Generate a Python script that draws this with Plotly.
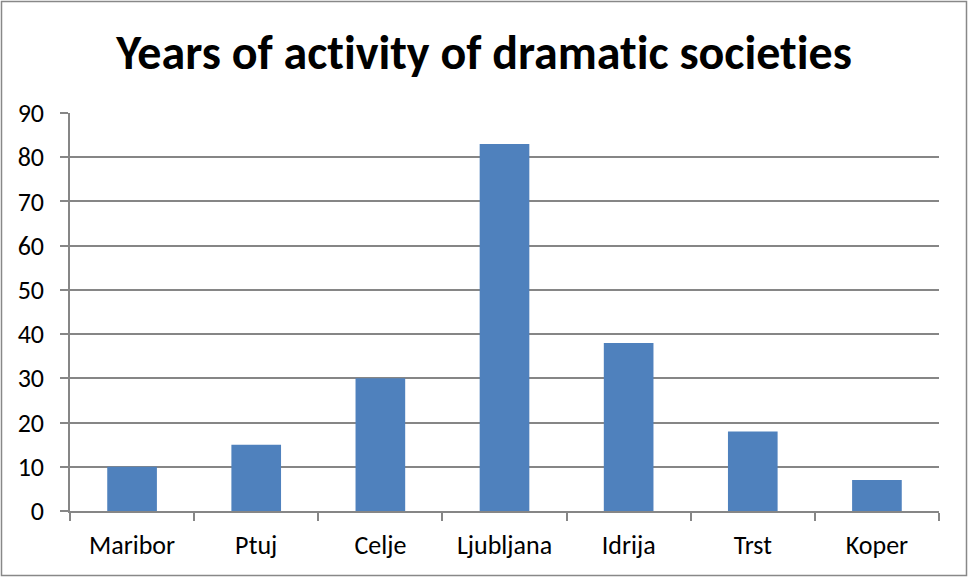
import plotly.graph_objects as go

# Years of activity per town
towns = ["Maribor", "Ptuj", "Celje", "Ljubljana", "Idrija", "Trst", "Koper"]
years = [10, 15, 30, 83, 38, 18, 7]
y_ticks = [0, 10, 20, 30, 40, 50, 60, 70, 80, 90]

W, H = 968, 577
ML, MR, MT, MB = 70, 29, 113, 66
PW, PH = W - ML - MR, H - MT - MB

FONT = "Calibri, Carlito, Lato, sans-serif"
GRID = "#868686"
LABEL_SIZE = 26

fig = go.Figure(
    go.Bar(
        x=towns,
        y=years,
        marker=dict(color="#4F81BD", line=dict(width=0)),
        hoverinfo="x+y",
    )
)

fig.update_layout(
    width=W,
    height=H,
    margin=dict(l=ML, r=MR, t=MT, b=MB),
    paper_bgcolor="white",
    plot_bgcolor="white",
    bargap=0.6,
    showlegend=False,
    font=dict(family=FONT, size=LABEL_SIZE, color="#000000"),
    title=dict(
        text="<b>Years of activity of dramatic societies</b>",
        x=0.5,
        xanchor="center",
        y=1 - 52 / H,
        yanchor="middle",
        font=dict(family=FONT, size=48, color="#000000"),
    ),
)

fig.update_xaxes(
    showline=True,
    linecolor=GRID,
    linewidth=1.5,
    ticks="outside",
    tickson="boundaries",
    ticklen=8,
    tickwidth=1.5,
    tickcolor=GRID,
    showgrid=False,
    ticklabelstandoff=10,
    tickfont=dict(family=FONT, size=LABEL_SIZE, color="#000000"),
)

fig.update_yaxes(
    range=[0, 90],
    tickvals=y_ticks,
    showline=True,
    linecolor=GRID,
    linewidth=1.5,
    ticks="outside",
    ticklen=8,
    tickwidth=1.5,
    tickcolor=GRID,
    showgrid=True,
    gridcolor=GRID,
    gridwidth=1.5,
    zeroline=False,
    ticklabelstandoff=11,
    tickfont=dict(family=FONT, size=LABEL_SIZE, color="#000000"),
)

# Light frame around the whole chart area
fig.add_shape(
    type="rect",
    xref="paper",
    yref="paper",
    x0=(1.5 - ML) / PW,
    x1=(W - 1.5 - ML) / PW,
    y0=1 - (H - 1.5 - MT) / PH,
    y1=1 + (MT - 1.5) / PH,
    line=dict(color="#888888", width=1.5),
    fillcolor="rgba(0,0,0,0)",
    layer="below",
)

# Plain letterforms, no typographic ligatures
no_liga = (
    "var s=document.createElement('style');"
    "s.textContent='.main-svg text{font-variant-ligatures:none;"
    "font-feature-settings:\"liga\" 0,\"clig\" 0;}';"
    "document.head.appendChild(s);"
)

fig.write_html("out.html", post_script=no_liga)
